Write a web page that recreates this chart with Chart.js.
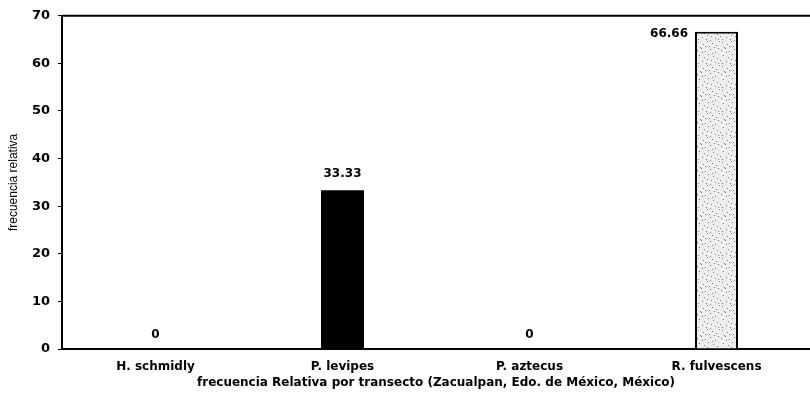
<!DOCTYPE html>
<html>
<head>
<meta charset="utf-8">
<script src="https://cdn.jsdelivr.net/npm/chart.js@4/dist/chart.umd.min.js"></script>
<style>
  html, body { margin: 0; padding: 0; background: #fff; }
  #wrap { width: 810px; height: 397px; position: relative; }
</style>
</head>
<body>
<div id="wrap"><canvas id="chart"></canvas></div>
<script>
const categories = ['H. schmidly', 'P. levipes', 'P. aztecus', 'R. fulvescens'];
const values = [0, 33.33, 0, 66.66];
const valueLabels = ['0', '33.33', '0', '66.66'];
const yTicks = [0, 10, 20, 30, 40, 50, 60, 70];

const WIDE = '"DejaVu Sans", Verdana, sans-serif';

// stippled fill like the printed original
function stipple() {
  const c = document.createElement('canvas');
  c.width = 24; c.height = 24;
  const g = c.getContext('2d');
  g.fillStyle = '#eeeeee';
  g.fillRect(0, 0, 24, 24);
  g.fillStyle = '#777';
  const dots = [[1,2],[5,0],[9,3],[14,1],[19,4],[22,0],[3,7],[8,9],[12,6],[17,8],[21,10],
    [0,12],[6,13],[10,15],[15,12],[19,14],[2,18],[7,20],[11,17],[16,19],[20,21],[4,23],[13,22],[23,17],
    [6,4],[16,5],[11,11],[2,15],[22,15],[9,22],[18,23],[14,16]];
  dots.forEach(([x, y]) => g.fillRect(x, y, 1, 1));
  return g.createPattern(c, 'repeat');
}

const labelPlugin = {
  id: 'valueLabels',
  afterDatasetsDraw(chart) {
    const { ctx } = chart;
    const meta = chart.getDatasetMeta(0);
    ctx.save();
    ctx.fillStyle = '#000';
    ctx.font = 'bold 12px ' + WIDE;
    ctx.textBaseline = 'middle';
    meta.data.forEach((bar, i) => {
      if (i === 3) {
        // no room above the tallest bar: label sits to its left
        ctx.textAlign = 'right';
        ctx.fillText(valueLabels[i], bar.x - bar.width / 2 - 7, bar.y + 2);
      } else if (values[i] === 0) {
        ctx.textAlign = 'center';
        ctx.fillText(valueLabels[i], bar.x, bar.y - 14);
      } else {
        ctx.textAlign = 'center';
        ctx.fillText(valueLabels[i], bar.x, bar.y - 16);
      }
    });
    // top frame line
    const a = chart.chartArea;
    ctx.strokeStyle = '#000';
    ctx.lineWidth = 2;
    ctx.beginPath();
    ctx.moveTo(a.left, a.top);
    ctx.lineTo(a.right, a.top);
    ctx.stroke();
    ctx.restore();
  }
};

new Chart(document.getElementById('chart'), {
  type: 'bar',
  data: {
    labels: categories,
    datasets: [{
      data: values,
      backgroundColor: ['#000', '#000', '#000', stipple()],
      borderColor: '#000',
      borderWidth: [0, 0, 0, 2],
      borderSkipped: 'bottom',
      barPercentage: 0.23,
      categoryPercentage: 1
    }]
  },
  plugins: [labelPlugin],
  options: {
    responsive: true,
    maintainAspectRatio: false,
    animation: false,
    layout: { padding: { top: 13, right: 0, left: 0, bottom: 0 } },
    plugins: { legend: { display: false }, tooltip: { enabled: false } },
    scales: {
      y: {
        min: 0,
        max: 70,
        afterBuildTicks: (s) => { s.ticks = yTicks.map((v) => ({ value: v })); },
        afterFit: (s) => { s.width = 62; },
        grid: { drawOnChartArea: false, drawTicks: true, tickLength: 4, color: '#000' },
        border: { display: true, color: '#000', width: 2 },
        ticks: {
          color: '#000',
          padding: 8,
          font: { family: WIDE, size: 13, weight: 'bold' }
        },
        title: {
          display: true,
          text: 'frecuencia relativa',
          color: '#000',
          padding: { top: 6, bottom: 0 },
          font: { family: '"Liberation Sans Narrow", "Arial Narrow", sans-serif', size: 12 }
        }
      },
      x: {
        afterFit: (s) => { s.height = 48; },
        grid: { display: false },
        border: { display: true, color: '#000', width: 2 },
        ticks: {
          color: '#000',
          padding: 3,
          font: { family: WIDE, size: 12, weight: 'bold' }
        },
        title: {
          display: true,
          text: 'frecuencia Relativa por transecto (Zacualpan, Edo. de México, México)',
          color: '#000',
          padding: { top: 2, bottom: 7 },
          font: { family: WIDE, size: 12, weight: 'bold' }
        }
      }
    }
  }
});
</script>
</body>
</html>
